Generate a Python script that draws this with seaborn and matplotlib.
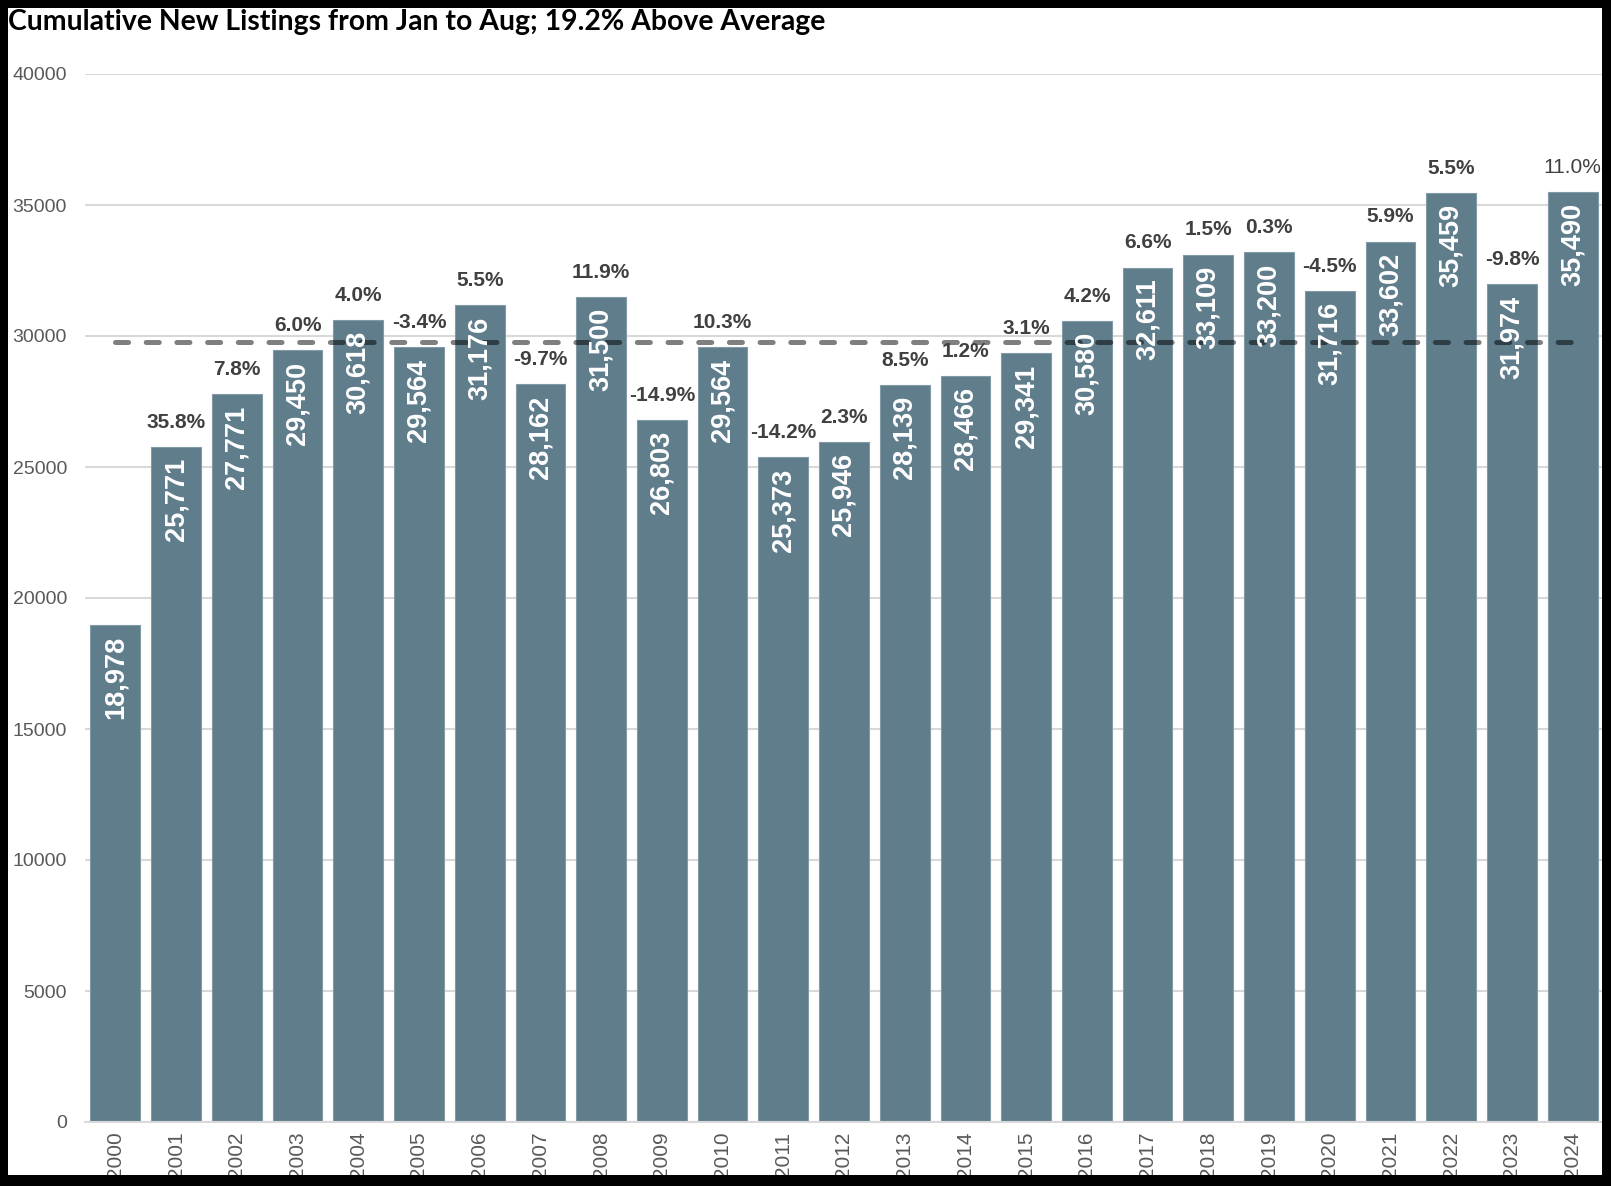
import matplotlib
matplotlib.use("Agg")
import matplotlib.pyplot as plt
from matplotlib.patches import Rectangle
import seaborn as sns
import pandas as pd
import numpy as np

years = [str(y) for y in range(2000, 2025)]
listings = [18978, 25771, 27771, 29450, 30618, 29564, 31176, 28162, 31500, 26803,
            29564, 25373, 25946, 28139, 28466, 29341, 30580, 32611, 33109, 33200,
            31716, 33602, 35459, 31974, 35490]
pct_labels = ["", "35.8%", "7.8%", "6.0%", "4.0%", "-3.4%", "5.5%", "-9.7%", "11.9%", "-14.9%",
              "10.3%", "-14.2%", "2.3%", "8.5%", "1.2%", "3.1%", "4.2%", "6.6%", "1.5%", "0.3%",
              "-4.5%", "5.9%", "5.5%", "-9.8%", "11.0%"]
title = "Cumulative New Listings from Jan to Aug; 19.2% Above Average"
yticks = [0, 5000, 10000, 15000, 20000, 25000, 30000, 35000, 40000]

df = pd.DataFrame({"year": years, "listings": listings})
avg = float(np.mean(listings))

sns.set_theme(style="white")
plt.rcParams["font.family"] = ["Liberation Sans", "DejaVu Sans"]
plt.rcParams["lines.scale_dashes"] = False

W, H = 1611, 1186
fig = plt.figure(figsize=(W / 100, H / 100), dpi=100)
fig.patch.set_facecolor("white")
ax = fig.add_axes([85 / W, 1 - 1122 / H, (1603 - 85) / W, (1122 - 74) / H])

bar_color = "#607D8C"
sns.barplot(data=df, x="year", y="listings", color=bar_color, width=0.82,
            saturation=1, edgecolor="#8299a6", linewidth=0.8, ax=ax, zorder=2)

ax.set_ylim(0, 40000)
ax.set_xlim(-0.5, len(years) - 0.5)
ax.set_yticks(yticks)
ax.set_yticklabels([str(v) for v in yticks])
ax.grid(axis="y", color="#d9d9d9", linewidth=1.5, zorder=0)
ax.set_axisbelow(True)
ax.set_xlabel("")
ax.set_ylabel("")
for s in ["top", "right", "left"]:
    ax.spines[s].set_visible(False)
ax.spines["bottom"].set_color("#d9d9d9")
ax.spines["bottom"].set_linewidth(1.5)

ax.tick_params(axis="y", length=0, pad=13, labelsize=14, labelcolor="#595959")
ax.tick_params(axis="x", which="major", length=0, pad=7, labelsize=15,
               labelcolor="#595959", labelrotation=90)
ax.set_xticks(np.arange(-0.5, len(years), 1.0), minor=True)
ax.tick_params(axis="x", which="minor", length=4, width=1.5, color="#d9d9d9")

# average dashed line
ax.plot([0, len(years) - 1], [avg, avg], color="black", alpha=0.5, linewidth=3.6,
        dashes=(9.4, 12.7), dash_capstyle="round", zorder=5)

for i, (v, p) in enumerate(zip(listings, pct_labels)):
    ax.annotate(f"{v:,}", (i, v), xytext=(0, -8), textcoords="offset points",
                ha="center", va="top", rotation=90, color="white",
                fontsize=19.5, fontweight="bold", zorder=6)
    if p:
        ax.annotate(p, (i, v), xytext=(0, 13.8), textcoords="offset points",
                    ha="center", va="baseline", color="#404040", fontsize=15,
                    fontweight="normal" if i == len(years) - 1 else "bold", zorder=6)

fig.text(8 / W, 1 - 9 / H, title, ha="left", va="top", fontsize=20.4,
         fontweight="bold", color="black", family=["Lato", "DejaVu Sans"])

# black frame around the picture
for (x0, y0, w, h) in [(0, 0, 8, H), (W - 9, 0, 9, H), (0, 0, W, 8), (0, H - 11, W, 11)]:
    fig.add_artist(Rectangle((x0 / W, 1 - (y0 + h) / H), w / W, h / H,
                             transform=fig.transFigure, facecolor="black",
                             edgecolor="none", zorder=100))

fig.savefig("out.png", dpi=100)
